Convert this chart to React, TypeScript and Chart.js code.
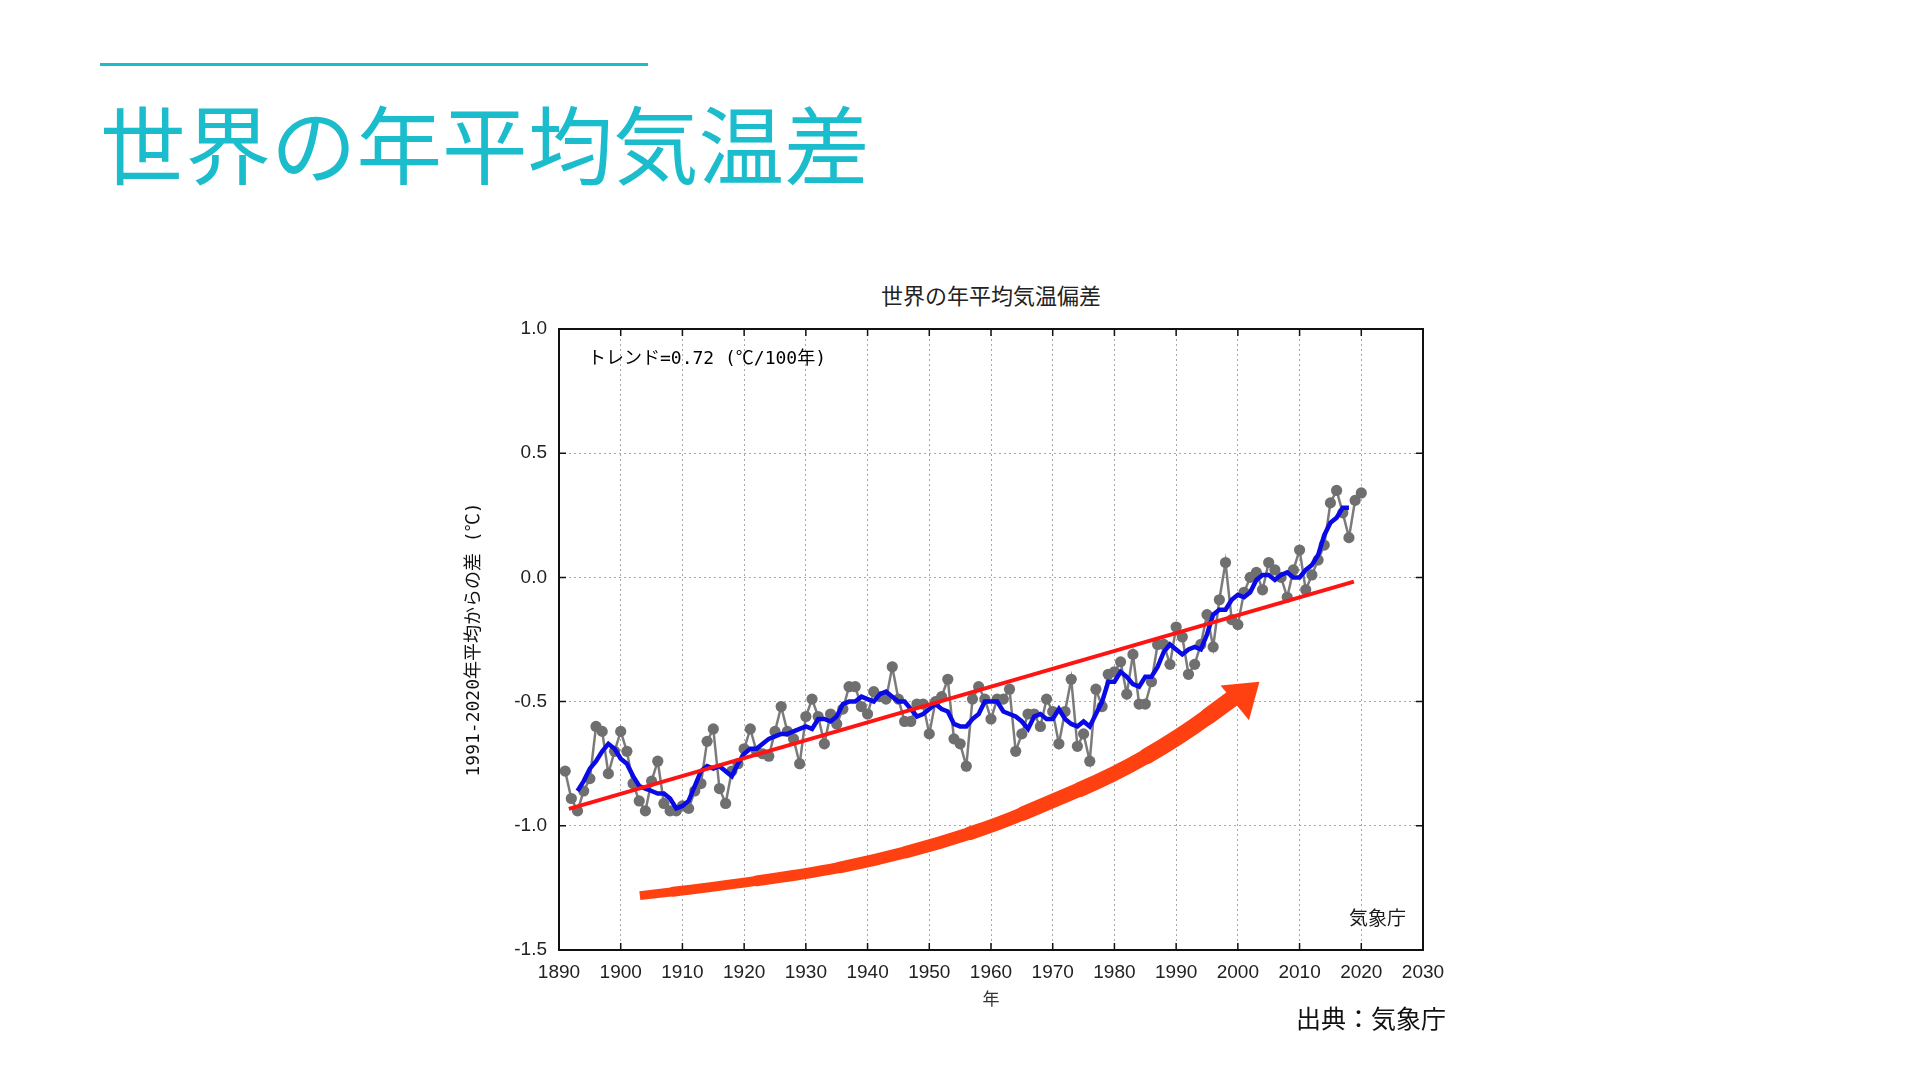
import React, { useEffect, useRef } from "react";
import { Chart, registerables } from "chart.js";

Chart.register(...registerables);

// ---- data ----
const FIRST_YEAR = 1891;
const ANOMALY = [
  -0.78, -0.89, -0.94, -0.86, -0.81, -0.60, -0.62, -0.79, -0.70, -0.62,
  -0.70, -0.83, -0.90, -0.94, -0.82, -0.74, -0.91, -0.94, -0.94, -0.92,
  -0.93, -0.86, -0.83, -0.66, -0.61, -0.85, -0.91, -0.78, -0.75, -0.69,
  -0.61, -0.70, -0.71, -0.72, -0.62, -0.52, -0.62, -0.65, -0.75, -0.56,
  -0.49, -0.56, -0.67, -0.55, -0.59, -0.53, -0.44, -0.44, -0.52, -0.55,
  -0.46, -0.48, -0.49, -0.36, -0.49, -0.58, -0.58, -0.51, -0.51, -0.63,
  -0.50, -0.48, -0.41, -0.65, -0.67, -0.76, -0.49, -0.44, -0.49, -0.57,
  -0.49, -0.49, -0.45, -0.70, -0.63, -0.55, -0.55, -0.60, -0.49, -0.54,
  -0.67, -0.54, -0.41, -0.68, -0.63, -0.74, -0.45, -0.52, -0.39, -0.38,
  -0.34, -0.47, -0.31, -0.51, -0.51, -0.42, -0.27, -0.27, -0.35, -0.20,
  -0.24, -0.39, -0.35, -0.27, -0.15, -0.28, -0.09, 0.06, -0.17, -0.19,
  -0.06, 0.00, 0.02, -0.05, 0.06, 0.03, 0.00, -0.08, 0.03, 0.11,
  -0.05, 0.01, 0.07, 0.13, 0.30, 0.35, 0.26, 0.16, 0.31, 0.34,
];

const MEAN_FIRST_YEAR = 1893;
const RUNNING_MEAN = [
  -0.86, -0.82, -0.77, -0.74, -0.70, -0.67, -0.69, -0.73, -0.75, -0.80,
  -0.84, -0.85, -0.86, -0.87, -0.87, -0.89, -0.93, -0.92, -0.90, -0.84,
  -0.78, -0.76, -0.77, -0.76, -0.78, -0.80, -0.75, -0.71, -0.69, -0.69,
  -0.67, -0.65, -0.64, -0.63, -0.63, -0.62, -0.61, -0.60, -0.61, -0.57,
  -0.57, -0.58, -0.56, -0.51, -0.50, -0.50, -0.48, -0.49, -0.50, -0.47,
  -0.46, -0.48, -0.50, -0.50, -0.53, -0.56, -0.55, -0.53, -0.51, -0.53,
  -0.54, -0.59, -0.60, -0.60, -0.57, -0.55, -0.50, -0.50, -0.50, -0.54,
  -0.55, -0.56, -0.58, -0.61, -0.56, -0.55, -0.57, -0.57, -0.53, -0.57,
  -0.59, -0.60, -0.58, -0.60, -0.55, -0.50, -0.42, -0.42, -0.38, -0.40,
  -0.43, -0.44, -0.40, -0.40, -0.36, -0.30, -0.27, -0.29, -0.31, -0.29,
  -0.28, -0.29, -0.23, -0.15, -0.13, -0.13, -0.09, -0.07, -0.08, -0.06,
  -0.01, 0.01, 0.01, -0.01, 0.01, 0.02, 0.00, 0.00, 0.03, 0.05,
  0.09, 0.17, 0.22, 0.24, 0.28, 0.28,
];

const TREND_YEARS = [1891.6, 2018.8];
const TREND_VALUES = [-0.932, -0.017];

// annotation arrow path, in data units (year, anomaly)
const ARROW_YEARS = [1903.1, 1913.9, 1930.1, 1940.9, 1951.7, 1961.5, 1969.0, 1979.8, 1990.6, 1999.8];
const ARROW_VALUES = [-1.281, -1.25, -1.194, -1.141, -1.07, -0.99, -0.91, -0.797, -0.643, -0.475];
const ARROW_HEAD_YEARS = [1997.2, 2003.5, 2001.8];
const ARROW_HEAD_VALUES = [-0.435, -0.42, -0.575];

const X_MIN = 1890;
const X_MAX = 2030;
const X_STEP = 10;
const Y_MIN = -1.5;
const Y_MAX = 1.0;
const Y_STEP = 0.5;

const SLIDE_TITLE = "世界の年平均気温差";
const CHART_TITLE = "世界の年平均気温偏差";
const TREND_LABEL = "トレンド=0.72 (℃/100年)";
const INNER_CREDIT = "気象庁";
const SOURCE_LABEL = "出典：気象庁";
const Y_TITLE = "1991-2020年平均からの差 (℃)";
const X_TITLE = "年";

const TEAL = "#1bbccb";
const ARROW_COLOR = "#ff4112";

const decorPlugin = {
  id: "decor",
  afterDatasetsDraw(chart: any) {
    const { ctx, scales } = chart;
    const xs = scales.x;
    const ys = scales.y;
    const pts = ARROW_YEARS.map((yr, i) => [
      xs.getPixelForValue(yr),
      ys.getPixelForValue(ARROW_VALUES[i]),
    ]);
    const mid = (a: number[], b: number[]) => [(a[0] + b[0]) / 2, (a[1] + b[1]) / 2];
    ctx.save();
    ctx.strokeStyle = ARROW_COLOR;
    ctx.fillStyle = ARROW_COLOR;
    ctx.lineJoin = "round";
    const n = pts.length;
    const pieces: { s: number[]; c: number[] | null; e: number[] }[] = [];
    pieces.push({ s: pts[0], c: null, e: mid(pts[0], pts[1]) });
    for (let i = 1; i < n - 1; i++) {
      pieces.push({ s: mid(pts[i - 1], pts[i]), c: pts[i], e: mid(pts[i], pts[i + 1]) });
    }
    pieces.push({ s: mid(pts[n - 2], pts[n - 1]), c: null, e: pts[n - 1] });
    pieces.forEach((p, k) => {
      ctx.lineCap = k === 0 ? "butt" : "round";
      ctx.lineWidth = 9 + 8 * (k / (pieces.length - 1));
      ctx.beginPath();
      ctx.moveTo(p.s[0], p.s[1]);
      if (p.c) ctx.quadraticCurveTo(p.c[0], p.c[1], p.e[0], p.e[1]);
      else ctx.lineTo(p.e[0], p.e[1]);
      ctx.stroke();
    });
    ctx.beginPath();
    ARROW_HEAD_YEARS.forEach((yr, i) => {
      const px = xs.getPixelForValue(yr);
      const py = ys.getPixelForValue(ARROW_HEAD_VALUES[i]);
      if (i === 0) ctx.moveTo(px, py);
      else ctx.lineTo(px, py);
    });
    ctx.closePath();
    ctx.fill();
    ctx.restore();
  },
  afterDraw(chart: any) {
    const { ctx, chartArea, scales } = chart;
    const { left, right, top, bottom } = chartArea;
    ctx.save();
    ctx.strokeStyle = "#111";
    ctx.lineWidth = 2;
    ctx.strokeRect(left, top, right - left, bottom - top);
    ctx.lineWidth = 1.5;
    const tl = 7;
    scales.x.ticks.forEach((t: any) => {
      const px = scales.x.getPixelForValue(t.value);
      ctx.beginPath();
      ctx.moveTo(px, bottom);
      ctx.lineTo(px, bottom - tl);
      ctx.moveTo(px, top);
      ctx.lineTo(px, top + tl);
      ctx.stroke();
    });
    scales.y.ticks.forEach((t: any) => {
      const py = scales.y.getPixelForValue(t.value);
      ctx.beginPath();
      ctx.moveTo(left, py);
      ctx.lineTo(left + tl, py);
      ctx.moveTo(right, py);
      ctx.lineTo(right - tl, py);
      ctx.stroke();
    });
    ctx.fillStyle = "#000";
    ctx.textBaseline = "middle";
    ctx.textAlign = "left";
    ctx.font = '18px "DejaVu Sans Mono", "Noto Sans CJK JP", monospace';
    ctx.fillText(TREND_LABEL, left + 29, top + 30);
    ctx.textAlign = "right";
    ctx.font = '19px "Noto Sans CJK JP", sans-serif';
    ctx.fillStyle = "#1a1a1a";
    ctx.fillText(INNER_CREDIT, right - 17, bottom - 32);
    ctx.restore();
  },
};

export default function App() {
  const canvasRef = useRef<HTMLCanvasElement | null>(null);

  useEffect(() => {
    if (!canvasRef.current) return;
    const greyPoints = ANOMALY.map((v, i) => ({ x: FIRST_YEAR + i, y: v }));
    const meanPoints = RUNNING_MEAN.map((v, i) => ({ x: MEAN_FIRST_YEAR + i, y: v }));
    const trendPoints = TREND_YEARS.map((yr, i) => ({ x: yr, y: TREND_VALUES[i] }));
    const tickFont = { family: '"Liberation Sans", Arial, sans-serif', size: 19 };

    const chart = new Chart(canvasRef.current, {
      type: "line",
      data: {
        datasets: [
          {
            label: "trend",
            data: trendPoints,
            borderColor: "#ff1414",
            borderWidth: 4,
            pointRadius: 0,
            order: 1,
          },
          {
            label: "5-year mean",
            data: meanPoints,
            borderColor: "#0a0ae6",
            borderWidth: 4.5,
            pointRadius: 0,
            order: 2,
          },
          {
            label: "annual",
            data: greyPoints,
            borderColor: "#7b7b7b",
            borderWidth: 2.5,
            pointRadius: 5.6,
            pointBackgroundColor: "#6f6f6f",
            pointBorderWidth: 0,
            order: 3,
          },
        ],
      },
      options: {
        animation: false,
        responsive: true,
        maintainAspectRatio: false,
        layout: { padding: { top: 49, right: 37, left: 0, bottom: 0 } },
        plugins: {
          legend: { display: false },
          tooltip: { enabled: false },
          title: { display: false },
        },
        scales: {
          x: {
            type: "linear",
            min: X_MIN,
            max: X_MAX,
            ticks: {
              stepSize: X_STEP,
              padding: 11,
              color: "#222",
              font: tickFont,
              maxRotation: 0,
              autoSkip: false,
              callback: (v: any) => String(v),
            },
            grid: { color: "#a8a8a8", lineWidth: 1, drawTicks: false },
            border: { display: false, dash: [2, 3] },
            title: {
              display: true,
              text: X_TITLE,
              color: "#333",
              font: { family: '"Noto Sans CJK JP", sans-serif', size: 17 },
              padding: { top: 0, bottom: 1 },
            },
            afterFit: (s: any) => {
              s.height = 60;
            },
          },
          y: {
            type: "linear",
            min: Y_MIN,
            max: Y_MAX,
            ticks: {
              stepSize: Y_STEP,
              padding: 12,
              color: "#222",
              font: tickFont,
              callback: (v: any) => Number(v).toFixed(1),
            },
            grid: { color: "#a8a8a8", lineWidth: 1, drawTicks: false },
            border: { display: false, dash: [2, 3] },
            title: {
              display: true,
              text: Y_TITLE,
              color: "#111",
              font: { family: '"DejaVu Sans Mono", "Noto Sans CJK JP", monospace', size: 18 },
              padding: { top: 104, bottom: 0 },
            },
            afterFit: (s: any) => {
              s.width = 199;
            },
          },
        },
      },
      plugins: [decorPlugin],
    } as any);
    return () => chart.destroy();
  }, []);

  return (
    <div
      style={{
        position: "absolute",
        left: 0,
        top: 0,
        width: 1920,
        height: 1080,
        background: "#fff",
        overflow: "hidden",
        fontFamily: '"Noto Sans CJK JP", sans-serif',
      }}
    >
      <div
        style={{
          position: "absolute",
          left: 100,
          top: 63,
          width: 548,
          height: 3,
          background: TEAL,
        }}
      />
      <div
        style={{
          position: "absolute",
          left: 100,
          top: 92,
          fontSize: 85.5,
          lineHeight: "98px",
          color: TEAL,
          whiteSpace: "nowrap",
        }}
      >
        {SLIDE_TITLE}
      </div>
      <div
        style={{
          position: "absolute",
          left: 791,
          top: 281,
          width: 400,
          textAlign: "center",
          fontSize: 22,
          lineHeight: "26px",
          color: "#222",
        }}
      >
        {CHART_TITLE}
      </div>
      <div
        style={{
          position: "absolute",
          left: 360,
          top: 280,
          width: 1100,
          height: 730,
        }}
      >
        <canvas ref={canvasRef} />
      </div>
      <div
        style={{
          position: "absolute",
          left: 1296,
          top: 1002,
          fontSize: 25,
          lineHeight: "30px",
          color: "#111",
          whiteSpace: "nowrap",
        }}
      >
        {SOURCE_LABEL}
      </div>
    </div>
  );
}
